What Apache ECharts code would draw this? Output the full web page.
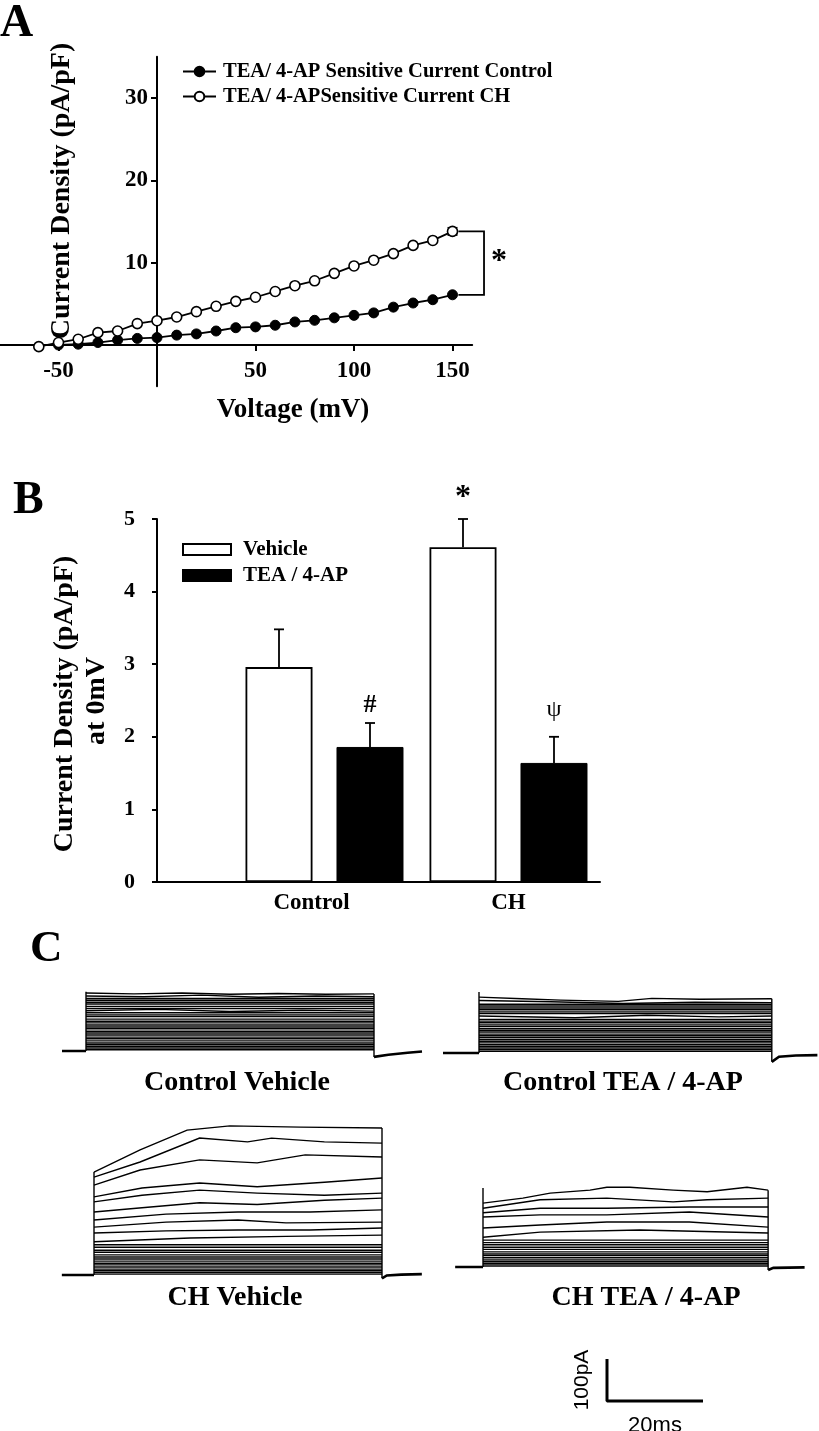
<!DOCTYPE html>
<html>
<head>
<meta charset="utf-8">
<script src="https://cdn.jsdelivr.net/npm/echarts@6/dist/echarts.min.js"></script>
<style>html,body{margin:0;padding:0;background:#fff}#c{width:819px;height:1431px}</style>
</head>
<body>
<div id="c"></div>
<script>
// ================= DATA =================
// Panel A : I-V relationship of TEA/4-AP sensitive current
const aNameCtrl = 'TEA/ 4-AP Sensitive Current Control';
const aNameCH = 'TEA/ 4-APSensitive Current CH';
const aVoltCtrl = [-50,-40,-30,-20,-10,0,10,20,30,40,50,60,70,80,90,100,110,120,130,140,150];
const aCtrl = [0,0.1,0.3,0.6,0.8,0.9,1.2,1.35,1.7,2.1,2.2,2.4,2.8,3.0,3.3,3.6,3.9,4.6,5.1,5.5,6.1];
const aVoltCH = [-60,-50,-40,-30,-20,-10,0,10,20,30,40,50,60,70,80,90,100,110,120,130,140,150];
const aCH = [-0.2,0.3,0.7,1.5,1.7,2.6,2.95,3.4,4.05,4.7,5.3,5.8,6.5,7.2,7.8,8.7,9.6,10.3,11.1,12.1,12.7,13.8];
const aCHErr = [[150, 13.8, 0.45]];
const aXTicks = [-50, 50, 100, 150];
const aYTicks = [10, 20, 30];
const aBracket = [[153,13.8],[166,13.8],[166,6.1],[153,6.1]];
const aSig = '*';
const aXTitle = 'Voltage (mV)';
const aYTitle = 'Current Density (pA/pF)';

// Panel B : current density at 0 mV
const bGroups = ['Control', 'CH'];
const bNameVeh = 'Vehicle';
const bNameTEA = 'TEA / 4-AP';
const bVehicle = [2.96, 4.61];
const bVehicleErr = [0.52, 0.39];
const bTEA = [1.86, 1.64];
const bTEAErr = [0.33, 0.36];
const bVehicleMarks = ['', '*'];
const bTEAMarks = ['#', '\u03C8'];
const bYTitle1 = 'Current Density (pA/pF)';
const bYTitle2 = 'at 0mV';

// Panel C : raw current traces (t in ms from pulse onset, current in pA)
const cLabels = ['Control Vehicle', 'Control TEA / 4-AP', 'CH Vehicle', 'CH TEA / 4-AP'];

const cvPre = [[-5,0],[0,0]];
const cvOnset = [[0,0],[0,141]];
const cvOffset = [[60,136],[60,-14]];
const cvTail = [[60,-14],[63,-9],[67,-4],[70,-1]];
const cvPulseEnd = 60;
const cvWaves = [
  [[0,138],[10,136],[20,138],[30,135],[40,137],[50,135],[60,136]],
  [[0,131],[12,129],[24,133],[36,128],[48,131],[60,129]],
  [[0,96],[15,99],[30,94],[45,97],[60,95]]
];
const cvLevels = [125,121,116,112,106,101,91,86,82,76,71,67,62,57,53,47,43,38,33,29,24,19,15,11,7,3];

const ctPre = [[-7.5,0],[0,0]];
const ctOnset = [[0,0],[0,145]];
const ctOffset = [[61,129],[61,-21]];
const ctTail = [[61,-21],[62.5,-9],[66,-6],[70.5,-5]];
const ctPulseEnd = 61;
const ctWaves = [
  [[0,133],[9,129],[17,126],[29,123],[36,130],[46,128],[61,129]],
  [[0,125],[15,122],[30,118],[45,121],[61,120]],
  [[0,88],[20,84],[35,90],[50,86],[61,88]]
];
const ctLevels = [116,112,107,103,98,94,80,76,72,67,63,58,54,50,45,41,37,32,28,24,20,16,12,8,4];

const chvPre = [[-6.7,0],[0,0]];
const chvOnset = [[0,0],[0,245]];
const chvOffset = [[60,350],[60,-8]];
const chvTail = [[60,-8],[61,-1],[64,1],[68.3,2]];
const chvPulseEnd = 60;
const chvWaves = [
  [[0,245],[9.6,298],[19.4,345],[28.3,355],[43,352],[60,350]],
  [[0,233],[9.6,269],[22,326],[32,317],[37,326],[48,317],[60,314]],
  [[0,214],[9.6,250],[22,274],[34,267],[44,286],[60,281]],
  [[0,186],[10,207],[22,219],[34,210],[48,221],[60,231]],
  [[0,174],[10,190],[22,202],[34,195],[48,190],[60,195]],
  [[0,150],[10,160],[22,172],[34,168],[48,178],[60,183]],
  [[0,131],[15,145],[30,150],[45,150],[60,155]],
  [[0,114],[15,126],[30,131],[40,124],[60,126]],
  [[0,100],[15,105],[30,107],[45,107],[60,112]],
  [[0,79],[20,88],[40,92],[60,95]]
];
const chvLevels = [72,66,59,54,48,43,38,33,28,24,19,14,10,6,2];

const chtPre = [[-5.8,0],[0,0]];
const chtOnset = [[0,0],[0,188]];
const chtOffset = [[59.4,183],[59.4,-7]];
const chtTail = [[59.4,-7],[60.5,-2],[67,-1]];
const chtPulseEnd = 59.4;
const chtWaves = [
  [[0,152],[8.3,164],[14,176],[22.3,183],[25.8,190],[30.6,190],[39.6,183],[46.7,179],[55,190],[59.4,183]],
  [[0,140],[11.9,160],[25.8,164],[39.6,155],[46.7,160],[59.4,164]],
  [[0,129],[11.9,140],[25.8,140],[43,143],[59.4,143]],
  [[0,119],[11.9,124],[25.8,124],[43,131],[59.4,119]],
  [[0,93],[11.9,100],[25.8,107],[43,107],[59.4,95]],
  [[0,71],[11.9,83],[32.7,88],[59.4,81]]
];
const chtLevels = [64,58,53,47,42,36,31,27,22,17,13,9,5,2];

// scale bar: 20 ms x 100 pA
const scaleBar = [[0,100],[0,0],[20,0]];
const scaleXName = '20ms';
const scaleYName = '100pA';

// ================= CHART =================
const SERIF = '"Liberation Serif","Times New Roman",serif';
const SANS = '"Liberation Sans",Arial,sans-serif';
const K = '#000';
const chart = echarts.init(document.getElementById('c'), null, {renderer: 'canvas', width: 819, height: 1431});

const BAR_W = 67, BAR_GAP_PX = 24;
const markFont = {'*': 'bold 32px ' + SERIF, '#': 'bold 26px ' + SERIF, '\u03C8': '24px ' + SERIF};
const markGap = {'*': 21, '#': 18, '\u03C8': 27};

function errB(means, errs, marks, sign) {
  return {
    type: 'custom', xAxisIndex: 2, yAxisIndex: 2, clip: false, z: 5, silent: true,
    data: means.map((m, i) => [i, m, errs[i]]),
    renderItem(params, api) {
      const i = api.value(0), m = api.value(1), e = api.value(2);
      const off = sign * (BAR_W + BAR_GAP_PX) / 2;
      const b = api.coord([i, m]), t = api.coord([i, m + e]);
      const x = b[0] + off;
      const ch = [
        {type: 'line', shape: {x1: x, y1: b[1], x2: x, y2: t[1]}, style: {stroke: K, lineWidth: 1.8}},
        {type: 'line', shape: {x1: x - 5, y1: t[1], x2: x + 5, y2: t[1]}, style: {stroke: K, lineWidth: 1.8}}
      ];
      const mk = marks[params.dataIndex];
      if (mk) ch.push({type: 'text', style: {text: mk, x: x, y: t[1] - markGap[mk], align: 'center', verticalAlign: 'middle', font: markFont[mk], fill: K}});
      return {type: 'group', children: ch};
    }
  };
}

function traceSeries(g, pre, onset, offset, tail, pe, waves, levels) {
  const thin = [];
  waves.forEach(w => thin.push({coords: w}));
  levels.forEach(L => thin.push({coords: [[0, L], [pe, L]]}));
  thin.push({coords: onset});
  thin.push({coords: offset});
  return [
    {type: 'lines', coordinateSystem: 'cartesian2d', xAxisIndex: g, yAxisIndex: g, polyline: true, silent: true,
     lineStyle: {color: K, width: 1.4, opacity: 1}, data: thin},
    {type: 'lines', coordinateSystem: 'cartesian2d', xAxisIndex: g, yAxisIndex: g, polyline: true, silent: true,
     lineStyle: {color: K, width: 2.6, opacity: 1}, data: [{coords: pre}, {coords: tail}]}
  ];
}

const traceGridW = 79 * 4.8, traceGridH = 390 * 0.42;
function tGrid(onsetX, baseY) { return {left: onsetX - 8 * 4.8, top: baseY - 360 * 0.42, width: traceGridW, height: traceGridH, outerBoundsMode: 'none'}; }
const hidX = g => ({gridIndex: g, type: 'value', min: -8, max: 71, show: false});
const hidY = g => ({gridIndex: g, type: 'value', min: -30, max: 360, show: false});

const axisLineStyle = {color: K, width: 2};
const tickFontA = {fontFamily: SERIF, fontWeight: 'bold', fontSize: 23, color: K};

// Panel A geometry: origin (0 mV, 0 pA/pF) at pixel (157, 345)
const A_PX_X = 1.97, A_PX_Y = 8.233;
const A_X0 = 157, A_Y0 = 345;
const aGrid = {left: A_X0 - 80 * A_PX_X, top: A_Y0 - 35 * A_PX_Y, width: 240 * A_PX_X, height: 40 * A_PX_Y, outerBoundsMode: 'none'};

const option = {
  animation: false,
  backgroundColor: '#fff',
  textStyle: {fontFamily: SERIF},
  grid: [
    aGrid,
    {left: 157, top: 519, width: 443, height: 363, outerBoundsMode: 'none'},
    {left: 232.5, top: 519, width: 368, height: 363, outerBoundsMode: 'none'},
    tGrid(86, 1051),
    tGrid(479, 1053),
    tGrid(94, 1275),
    tGrid(483, 1267),
    {left: 607, top: 1359, width: 96, height: 42, outerBoundsMode: 'none'}
  ],
  xAxis: [
    {gridIndex: 0, type: 'value', min: -80, max: 160, position: 'bottom',
     offset: -(5 * A_PX_Y),
     axisLine: {show: true, onZero: false, lineStyle: axisLineStyle},
     axisTick: {show: true, customValues: aXTicks, length: 6, lineStyle: axisLineStyle},
     axisLabel: Object.assign({customValues: aXTicks, margin: 15}, tickFontA),
     splitLine: {show: false}},
    {gridIndex: 1, type: 'value', min: 0, max: 1,
     axisLine: {show: true, onZero: false, lineStyle: axisLineStyle},
     axisTick: {show: false}, axisLabel: {show: false}, splitLine: {show: false}},
    {gridIndex: 2, type: 'category', data: bGroups,
     axisLine: {show: false}, axisTick: {show: false},
     axisLabel: {margin: 10, fontFamily: SERIF, fontWeight: 'bold', fontSize: 23, color: K,
       formatter: v => v === 'Control' ? '{l|' + v + '}' : v,
       rich: {l: {fontFamily: SERIF, fontWeight: 'bold', fontSize: 23, color: K, padding: [0, 26, 0, 0]}}}},
    hidX(3), hidX(4), hidX(5), hidX(6),
    {gridIndex: 7, type: 'value', min: 0, max: 20,
     axisLine: {show: false}, axisTick: {show: false}, axisLabel: {show: false}, splitLine: {show: false},
     name: scaleXName, nameLocation: 'middle', nameGap: 14,
     nameTextStyle: {fontFamily: SANS, fontSize: 22, color: K}}
  ],
  yAxis: [
    {gridIndex: 0, type: 'value', min: -5, max: 35, position: 'left',
     offset: -(80 * A_PX_X),
     axisLine: {show: true, onZero: false, lineStyle: axisLineStyle},
     axisTick: {show: true, customValues: aYTicks, length: 6, lineStyle: axisLineStyle},
     axisLabel: Object.assign({customValues: aYTicks, margin: 9}, tickFontA),
     splitLine: {show: false}},
    {gridIndex: 1, type: 'value', min: 0, max: 5, interval: 1,
     axisLine: {show: true, onZero: false, lineStyle: axisLineStyle},
     axisTick: {show: true, length: 5, lineStyle: axisLineStyle},
     axisLabel: {margin: 22, fontFamily: SERIF, fontWeight: 'bold', fontSize: 22, color: K},
     splitLine: {show: false}},
    {gridIndex: 2, type: 'value', min: 0, max: 5, show: false},
    hidY(3), hidY(4), hidY(5), hidY(6),
    {gridIndex: 7, type: 'value', min: 0, max: 100,
     axisLine: {show: false}, axisTick: {show: false}, axisLabel: {show: false}, splitLine: {show: false},
     name: scaleYName, nameLocation: 'middle', nameRotate: 90, nameGap: 14,
     nameTextStyle: {fontFamily: SANS, fontSize: 21, color: K}}
  ],
  legend: [
    {data: [aNameCtrl, aNameCH], orient: 'vertical', left: 177, top: 56,
     itemWidth: 33, itemHeight: 12, itemGap: 4, selectedMode: false,
     textStyle: {fontFamily: SERIF, fontWeight: 'bold', fontSize: 20.5, color: K, padding: [0, 0, 0, 2]}},
    {data: [bNameVeh, bNameTEA], orient: 'vertical', left: 177, top: 534, icon: 'rect',
     itemWidth: 48, itemHeight: 11, itemGap: 5, selectedMode: false,
     textStyle: {fontFamily: SERIF, fontWeight: 'bold', fontSize: 21, color: K, padding: [0, 0, 0, 7]}}
  ],
  series: [
    {name: aNameCtrl, type: 'line', xAxisIndex: 0, yAxisIndex: 0,
     data: aVoltCtrl.map((v, i) => [v, aCtrl[i]]),
     symbol: 'circle', symbolSize: 10,
     itemStyle: {color: K, borderColor: K, borderWidth: 1},
     lineStyle: {color: K, width: 1.8}, z: 3},
    {type: 'custom', xAxisIndex: 0, yAxisIndex: 0, clip: false, z: 2, silent: true,
     data: aCHErr,
     renderItem(params, api) {
       const v = api.value(0), m = api.value(1), e = api.value(2);
       const t = api.coord([v, m + e]), b = api.coord([v, m - e]);
       const st = {stroke: K, lineWidth: 1.5};
       return {type: 'group', children: [
         {type: 'line', shape: {x1: t[0], y1: t[1], x2: b[0], y2: b[1]}, style: st},
         {type: 'line', shape: {x1: t[0] - 5, y1: t[1], x2: t[0] + 5, y2: t[1]}, style: st},
         {type: 'line', shape: {x1: b[0] - 5, y1: b[1], x2: b[0] + 5, y2: b[1]}, style: st}
       ]};
     }},
    {name: aNameCH, type: 'line', xAxisIndex: 0, yAxisIndex: 0,
     data: aVoltCH.map((v, i) => [v, aCH[i]]),
     symbol: 'circle', symbolSize: 10,
     itemStyle: {color: '#fff', borderColor: K, borderWidth: 1.6},
     lineStyle: {color: K, width: 1.8}, z: 4},
    // significance bracket (drawn through the axis scale, allowed past the axis end)
    {type: 'custom', xAxisIndex: 0, yAxisIndex: 0, clip: false, silent: true, z: 4,
     data: [0],
     renderItem(params, api) {
       const pts = aBracket.map(p => api.coord(p));
       return {type: 'polyline', shape: {points: pts}, style: {stroke: K, lineWidth: 1.8, fill: null}};
     }},

    {name: bNameVeh, type: 'bar', xAxisIndex: 2, yAxisIndex: 2, data: bVehicle,
     barWidth: BAR_W, barGap: (BAR_GAP_PX / BAR_W * 100).toFixed(1) + '%',
     itemStyle: {color: '#fff', borderColor: K, borderWidth: 1.8}},
    {name: bNameTEA, type: 'bar', xAxisIndex: 2, yAxisIndex: 2, data: bTEA,
     barWidth: BAR_W, itemStyle: {color: K, borderColor: K, borderWidth: 1}},
    errB(bVehicle, bVehicleErr, bVehicleMarks, -1),
    errB(bTEA, bTEAErr, bTEAMarks, 1),

    ...traceSeries(3, cvPre, cvOnset, cvOffset, cvTail, cvPulseEnd, cvWaves, cvLevels),
    ...traceSeries(4, ctPre, ctOnset, ctOffset, ctTail, ctPulseEnd, ctWaves, ctLevels),
    ...traceSeries(5, chvPre, chvOnset, chvOffset, chvTail, chvPulseEnd, chvWaves, chvLevels),
    ...traceSeries(6, chtPre, chtOnset, chtOffset, chtTail, chtPulseEnd, chtWaves, chtLevels),

    {type: 'line', xAxisIndex: 7, yAxisIndex: 7, data: scaleBar, symbol: 'none', clip: false,
     lineStyle: {color: K, width: 3}, silent: true}
  ],
  graphic: {elements: [
    {type: 'text', x: 0, y: 24, style: {text: 'A', font: 'bold 46px ' + SERIF, fill: K, align: 'left', verticalAlign: 'middle'}},
    {type: 'text', x: 13, y: 501, style: {text: 'B', font: 'bold 46px ' + SERIF, fill: K, align: 'left', verticalAlign: 'middle'}},
    {type: 'text', x: 30, y: 949, style: {text: 'C', font: 'bold 45px ' + SERIF, fill: K, align: 'left', verticalAlign: 'middle'}},
    {type: 'text', x: 62, y: 191, rotation: Math.PI / 2, style: {text: aYTitle, font: 'bold 28px ' + SERIF, fill: K, align: 'center', verticalAlign: 'middle'}},
    {type: 'text', x: 293, y: 410, style: {text: aXTitle, font: 'bold 27px ' + SERIF, fill: K, align: 'center', verticalAlign: 'middle'}},
    {type: 'text', x: 499, y: 262, style: {text: aSig, font: 'bold 32px ' + SERIF, fill: K, align: 'center', verticalAlign: 'middle'}},
    {type: 'text', x: 65, y: 704, rotation: Math.PI / 2, style: {text: bYTitle1, font: 'bold 28px ' + SERIF, fill: K, align: 'center', verticalAlign: 'middle'}},
    {type: 'text', x: 97, y: 701, rotation: Math.PI / 2, style: {text: bYTitle2, font: 'bold 28px ' + SERIF, fill: K, align: 'center', verticalAlign: 'middle'}},
    {type: 'text', x: 237, y: 1083, style: {text: cLabels[0], font: 'bold 28px ' + SERIF, fill: K, align: 'center', verticalAlign: 'middle'}},
    {type: 'text', x: 623, y: 1083, style: {text: cLabels[1], font: 'bold 28px ' + SERIF, fill: K, align: 'center', verticalAlign: 'middle'}},
    {type: 'text', x: 235, y: 1298, style: {text: cLabels[2], font: 'bold 28px ' + SERIF, fill: K, align: 'center', verticalAlign: 'middle'}},
    {type: 'text', x: 646, y: 1298, style: {text: cLabels[3], font: 'bold 28px ' + SERIF, fill: K, align: 'center', verticalAlign: 'middle'}}
  ]}
};
chart.setOption(option);
</script>
</body>
</html>
